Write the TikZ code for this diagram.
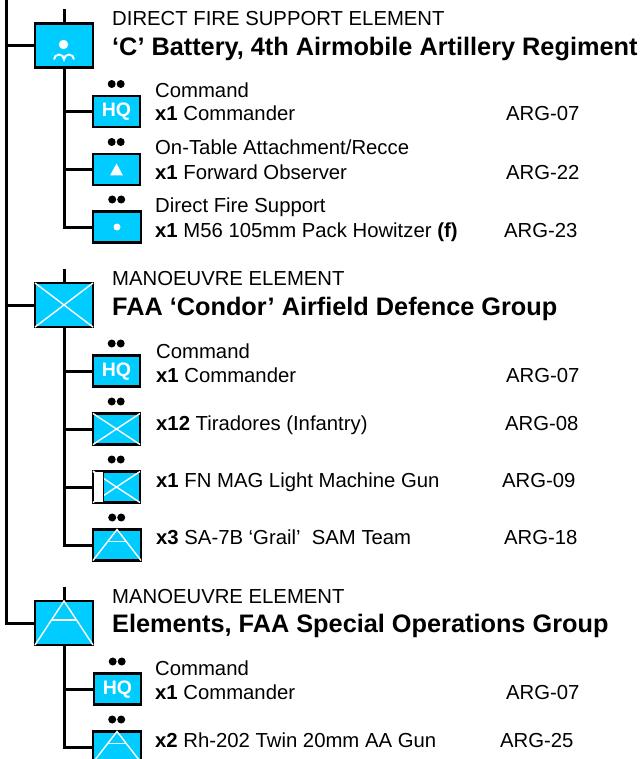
\documentclass[tikz,border=0pt]{standalone}
\usepackage{fontspec}
\setmainfont{Liberation Sans}
\definecolor{unitblue}{RGB}{0,204,255}
\tikzset{
  bigbox/.style={draw=black, fill=unitblue, line width=2.2pt, minimum width=58pt, minimum height=44pt, inner sep=0pt, outer sep=0pt},
  smallbox/.style={draw=black, fill=unitblue, line width=2.2pt, minimum width=47pt, minimum height=31pt, inner sep=0pt, outer sep=0pt, text=white, font=\bfseries\fontsize{19.5}{19.5}\selectfont},
  link/.style={line width=3pt},
  trunk/.style={line width=3pt},
  sym/.style={draw=white, line width=1.4pt},
  head/.style={anchor=base west, inner sep=0pt, yshift=-2pt, font=\fontsize{20.3}{20.3}\selectfont},
  title/.style={anchor=base west, inner sep=0pt, yshift=-2pt, font=\bfseries\fontsize{25.3}{25.3}\selectfont},
  line/.style={anchor=base west, inner sep=0pt, yshift=-2pt, font=\fontsize{20.3}{20.3}\selectfont},
}
\newcommand{\rankdots}[1]{\fill ([xshift=-4.8pt,yshift=12pt]#1.north) circle [radius=4pt] ([xshift=4.2pt,yshift=12pt]#1.north) circle [radius=4pt];}
\newcommand{\crossbox}[1]{\draw[sym] (#1.north west) -- (#1.south east) (#1.south west) -- (#1.north east);}
\newcommand{\peakbox}[1]{\draw[sym] (#1.south west) -- (#1.north) -- (#1.south east);}
\begin{document}
\begin{tikzpicture}[x=1pt,y=-1pt]
\path[use as bounding box, clip] (0,0) rectangle (641,759);
\coordinate (top) at (6,0);
% boxes
\node[bigbox] (battery) at (64,45.5) {};
\node[smallbox, text height=14pt] (hqa) at (116.5,111.5) {HQ};
\node[smallbox] (obs) at (116.5,169.5) {};
\node[smallbox, minimum width=48pt] (gun) at (117,227) {};
\node[bigbox] (condor) at (64,305) {};
\node[smallbox, text height=14pt] (hqb) at (116.5,371) {HQ};
\node[smallbox] (inf) at (116.5,429) {};
\node[smallbox] (mag) at (116.5,487) {};
\node[smallbox, minimum width=48pt] (sam) at (117,545) {};
\node[bigbox] (sog) at (64,623) {};
\node[smallbox, text height=14pt] (hqc) at (117.5,689) {HQ};
\node[smallbox, minimum width=48pt] (aaa) at (117,747) {};
% connectors
\draw[trunk] (top) |- (battery.west);
\draw[trunk] (top) |- (condor.west);
\draw[trunk] (top) |- (sog.west);
\draw[link] (battery.south) |- (hqa.west);
\draw[link] (battery.south) |- (obs.west);
\draw[link] (battery.south) |- (gun.west);
\draw[link] (condor.south) |- (hqb.west);
\draw[link] (condor.south) |- (inf.west);
\draw[link] (condor.south) |- (mag.west);
\draw[link] (condor.south) |- (sam.west);
\draw[link] (sog.south) |- (hqc.west);
\draw[link] (sog.south) |- (aaa.west);
\draw[link] (battery.north) -- ++(0,-14);
\draw[link] (condor.north) -- ++(0,-14);
\draw[link] (sog.north) -- ++(0,-14);
% symbols
\fill[white] (63.5,44.5) circle [radius=4.7pt];
\draw[sym, line width=1.9pt] (54,59.5) arc [start angle=180, end angle=0, radius=5pt] arc [start angle=180, end angle=0, radius=5pt];
\fill[white] (obs.center) ++(-6.5,6) -- ++(13,0) -- ++(-6.5,-12) -- cycle;
\fill[white] (gun.center) circle [radius=3.5pt];
\crossbox{condor}
\crossbox{inf}
\crossbox{mag}
\fill[white] (94,472) rectangle (103,502);
\draw[line width=1.6pt] (103.5,471.5) -- (103.5,502.5);
\draw[sym] (93,471) -- (103,478);
\peakbox{sam}
\draw[sym] (sam.north) ++(-9,12) -- ++(18,0);
\peakbox{sog}
\draw[sym] (sog.north) ++(-12,19) -- ++(24,0);
\peakbox{aaa}
\draw[sym] (aaa.north) ++(-9,12) -- ++(18,0);
\rankdots{hqa}
\rankdots{obs}
\rankdots{gun}
\rankdots{hqb}
\rankdots{inf}
\rankdots{mag}
\rankdots{sam}
\rankdots{hqc}
\rankdots{aaa}
% first group
\node[head] (heada) at (112,24) {DIRECT FIRE SUPPORT ELEMENT};
\node[title] (titlea) at (112,54) {‘C’ Battery, 4th Airmobile Artillery Regiment};
\node[line] (taska) at (155,96) {Command};
\node[line] (texta) at (155,119) {\textbf{x1} Commander};
\node[line] (arga) at (506,119) {ARG-07};
\node[line] (taskb) at (155,153) {On-Table Attachment/Recce};
\node[line] (textb) at (155,178) {\textbf{x1} Forward Observer};
\node[line] (argb) at (506,178) {ARG-22};
\node[line] (taskc) at (155,211) {Direct Fire Support};
\node[line] (textc) at (155,235) {\textbf{x1} M56 105mm Pack Howitzer \textbf{(f)}};
\node[line] (argc) at (504,235) {ARG-23};
% second group
\node[head] (headb) at (112,283) {MANOEUVRE ELEMENT};
\node[title] (titleb) at (112,313) {FAA ‘Condor’ Airfield Defence Group};
\node[line] (taskd) at (156,356) {Command};
\node[line] (textd) at (156,380) {\textbf{x1} Commander};
\node[line] (argd) at (506,380) {ARG-07};
\node[line] (texte) at (156,428) {\textbf{x12} Tiradores (Infantry)};
\node[line] (arge) at (505,428) {ARG-08};
\node[line] (textf) at (156,485) {\textbf{x1} FN MAG Light Machine Gun};
\node[line] (argf) at (502,485) {ARG-09};
\node[line] (textg) at (156,542) {\textbf{x3} SA-7B ‘Grail’ ~SAM Team};
\node[line] (argg) at (504,542) {ARG-18};
% third group
\node[head] (headc) at (112,601) {MANOEUVRE ELEMENT};
\node[title] (titlec) at (112,630) {Elements, FAA Special Operations Group};
\node[line] (taskh) at (155,673) {Command};
\node[line] (texth) at (155,697) {\textbf{x1} Commander};
\node[line] (argh) at (506,697) {ARG-07};
\node[line] (texti) at (155,745) {\textbf{x2} Rh-202 Twin 20mm AA Gun};
\node[line] (argi) at (500,745) {ARG-25};
\end{tikzpicture}
\end{document}
